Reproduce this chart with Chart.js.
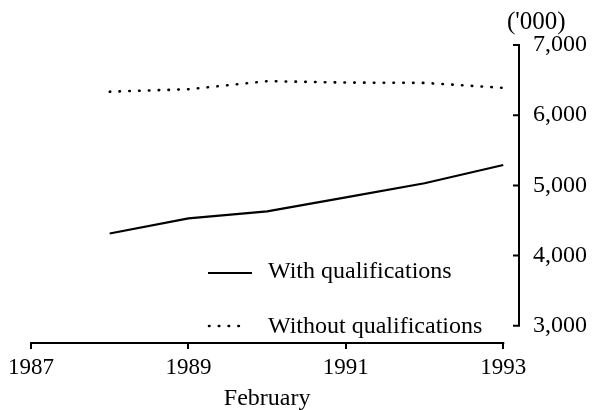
<!DOCTYPE html>
<html>
<head>
<meta charset="utf-8">
<script src="https://cdn.jsdelivr.net/npm/chart.js@4/dist/chart.umd.min.js"></script>
<style>
  html, body { margin: 0; padding: 0; background: #fff; }
  #wrap { width: 592px; height: 410px; }
</style>
</head>
<body>
<div id="wrap"><canvas id="c" width="592" height="410"></canvas></div>
<script>
// ---- data ----
const years = [1988, 1989, 1990, 1991, 1992, 1993];
const withQual = [4315, 4530, 4630, 4830, 5030, 5290];
const withoutQual = [6335, 6370, 6485, 6465, 6460, 6390];
const xTicks = [1987, 1989, 1991, 1993];
const yTicks = [3000, 4000, 5000, 6000, 7000];
const seriesNames = ['With qualifications', 'Without qualifications'];
const unitLabel = "('000)";
const xTitle = 'February';

const FONT = '"Liberation Serif", "Times New Roman", serif';
const DOT_DASH = [0.5, 9.3];

const decor = {
  id: 'decor',
  afterDraw(chart) {
    const { ctx, chartArea: a, scales: { x, y } } = chart;
    ctx.save();
    ctx.strokeStyle = '#000';
    ctx.lineWidth = 2;
    ctx.setLineDash([]);
    // y axis bracket
    const yTop = y.getPixelForValue(yTicks[yTicks.length - 1]);
    const yBot = y.getPixelForValue(yTicks[0]);
    ctx.beginPath();
    ctx.moveTo(a.right, yTop);
    ctx.lineTo(a.right, yBot);
    yTicks.forEach(v => {
      const p = y.getPixelForValue(v);
      ctx.moveTo(a.right - 6, p);
      ctx.lineTo(a.right + 1, p);
    });
    // x axis line
    const x0 = x.getPixelForValue(xTicks[0]);
    const x1 = x.getPixelForValue(xTicks[xTicks.length - 1]);
    ctx.moveTo(x0 - 1, a.bottom);
    ctx.lineTo(x1 + 1, a.bottom);
    ctx.stroke();

    ctx.fillStyle = '#000';
    ctx.font = '25px ' + FONT;
    // unit label
    ctx.textAlign = 'left';
    ctx.textBaseline = 'middle';
    ctx.fillText(unitLabel, 507, 22);
    // x title
    ctx.font = '24px ' + FONT;
    ctx.textAlign = 'center';
    ctx.textBaseline = 'alphabetic';
    ctx.fillText(xTitle, (x0 + x1) / 2, 405);

    // legend
    ctx.textAlign = 'left';
    ctx.fillText(seriesNames[0], 268, 278);
    ctx.fillText(seriesNames[1], 268, 333);
    ctx.beginPath();
    ctx.moveTo(208, 273);
    ctx.lineTo(252, 273);
    ctx.stroke();
    ctx.setLineDash(DOT_DASH);
    ctx.lineCap = 'round';
    ctx.lineWidth = 2.6;
    ctx.beginPath();
    ctx.moveTo(209, 326);
    ctx.lineTo(247, 326);
    ctx.stroke();
    ctx.restore();
  }
};

new Chart(document.getElementById('c'), {
  type: 'line',
  data: {
    datasets: [
      {
        label: seriesNames[0],
        data: years.map((yr, i) => ({ x: yr, y: withQual[i] })),
        borderColor: '#000',
        borderWidth: 2.2,
        pointRadius: 0,
        tension: 0,
        fill: false
      },
      {
        label: seriesNames[1],
        data: years.map((yr, i) => ({ x: yr, y: withoutQual[i] })),
        borderColor: '#000',
        borderWidth: 2.6,
        borderDash: DOT_DASH,
        borderCapStyle: 'round',
        pointRadius: 0,
        tension: 0,
        fill: false
      }
    ]
  },
  options: {
    responsive: false,
    animation: false,
    layout: { padding: { top: 45, left: 31, right: 0, bottom: 0 } },
    plugins: { legend: { display: false }, tooltip: { enabled: false } },
    scales: {
      x: {
        type: 'linear',
        position: 'bottom',
        min: 1987,
        max: 1993.2,
        afterBuildTicks: s => { s.ticks = xTicks.map(v => ({ value: v })); },
        afterFit: s => { s.height = 67; },
        grid: { display: true, drawOnChartArea: false, drawTicks: true, tickLength: 6, color: '#000', lineWidth: 2 },
        border: { display: false },
        ticks: {
          color: '#000',
          font: { family: FONT, size: 23 },
          padding: 5,
          maxRotation: 0,
          autoSkip: false,
          callback: v => String(v)
        }
      },
      y: {
        type: 'linear',
        position: 'right',
        min: 2755,
        max: 7000,
        afterBuildTicks: s => { s.ticks = yTicks.map(v => ({ value: v })); },
        afterFit: s => { s.width = 73; },
        grid: { display: false },
        border: { display: false },
        ticks: {
          color: '#000',
          font: { family: FONT, size: 24 },
          padding: 6,
          autoSkip: false,
          callback: v => v.toLocaleString('en-US')
        }
      }
    }
  },
  plugins: [decor]
});
</script>
</body>
</html>
